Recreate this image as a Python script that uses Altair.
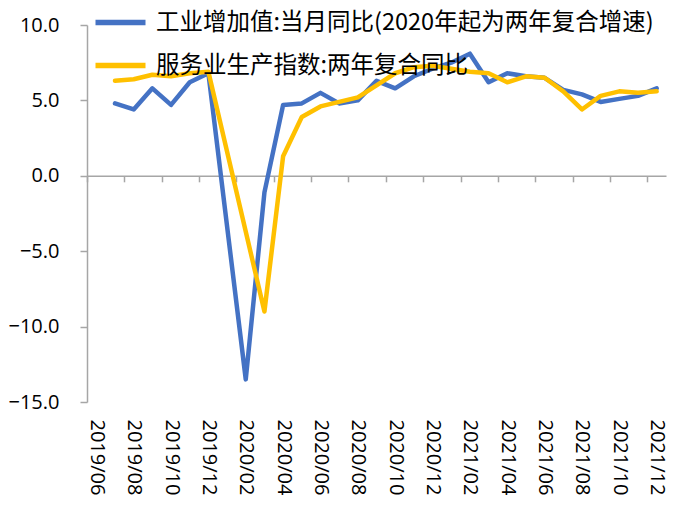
import altair as alt
import pandas as pd

months = [
    "2019/06", "2019/07", "2019/08", "2019/09", "2019/10", "2019/11", "2019/12",
    "2020/01", "2020/02", "2020/03", "2020/04", "2020/05", "2020/06", "2020/07",
    "2020/08", "2020/09", "2020/10", "2020/11", "2020/12", "2021/01", "2021/02",
    "2021/03", "2021/04", "2021/05", "2021/06", "2021/07", "2021/08", "2021/09",
    "2021/10", "2021/11", "2021/12",
]
industry = [
    None, 4.8, 4.4, 5.8, 4.7, 6.2, 6.8,
    None, -13.5, -1.1, 4.7, 4.8, 5.5, 4.8,
    5.0, 6.3, 5.8, 6.6, 7.1, 7.5, 8.1,
    6.2, 6.8, 6.6, 6.5, 5.7, 5.4, 4.9,
    5.1, 5.3, 5.8,
]
services = [
    None, 6.3, 6.4, 6.7, 6.6, 6.8, 6.9,
    None, None, -9.0, 1.3, 3.9, 4.6, 4.9,
    5.2, 6.0, 6.8, 7.2, 7.3, 7.1, 6.9,
    6.8, 6.2, 6.6, 6.5, 5.6, 4.4, 5.3,
    5.6, 5.5, 5.6,
]
s1 = "工业增加值:当月同比(2020年起为两年复合增速)"
s2 = "服务业生产指数:两年复合同比"
y_ticks = [-15, -10, -5, 0, 5, 10]
label_months = months[::2]

rows = []
for m, a, b in zip(months, industry, services):
    if a is not None:
        rows.append({"month": m, "series": s1, "value": a})
    if b is not None:
        rows.append({"month": m, "series": s2, "value": b})
df = pd.DataFrame(rows)

W, H = 579, 377
GRAY = "#a6a6a6"
x_scale = alt.Scale(domain=months, type="point", padding=0.5)
y_scale = alt.Scale(domain=[-15, 10], nice=False, zero=False)

zero_axis = alt.Chart(pd.DataFrame({"month": months})).mark_tick(opacity=0).encode(
    x=alt.X(
        "month:O",
        scale=x_scale,
        axis=alt.Axis(
            title=None, values=label_months, labels=False, orient="bottom",
            domainColor=GRAY, domainWidth=1.5, tickColor=GRAY, tickWidth=1.5,
            tickSize=6, tickOffset=-W / 62, offset=-H * 15 / 25,
        ),
    )
)

lines = alt.Chart(df).mark_line(strokeWidth=4.5, strokeCap="round", strokeJoin="round").encode(
    x=alt.X(
        "month:O",
        scale=x_scale,
        axis=alt.Axis(
            title=None, values=label_months, labelAngle=90, domain=False,
            ticks=False, tickSize=0, labelPadding=17, labelFont="Open Sans",
            labelFontSize=20, labelColor="#000000", orient="bottom",
        ),
    ),
    y=alt.Y(
        "value:Q",
        scale=y_scale,
        axis=alt.Axis(
            title=None, values=y_ticks, format=".1f", grid=False,
            domainColor=GRAY, domainWidth=1.5, tickColor=GRAY, tickWidth=1.5,
            tickSize=7, labelPadding=21, labelFont="Open Sans", labelFontSize=20,
            labelColor="#000000",
        ),
    ),
    color=alt.Color(
        "series:N",
        scale=alt.Scale(domain=[s1, s2], range=["#4472C4", "#FFC000"]),
        legend=alt.Legend(
            title=None, orient="none", legendX=18, legendY=-18, padding=0,
            symbolType="M-2,0H2", symbolSize=625, symbolStrokeWidth=5.5,
            rowPadding=16, labelOffset=20, labelFont="Noto Sans CJK SC",
            labelFontSize=23.5, labelLimit=700, labelColor="#000000",
        ),
    ),
)

chart = alt.layer(zero_axis, lines).resolve_axis(x="independent").properties(
    width=W, height=H,
    autosize=alt.AutoSizeParams(type="none"),
    padding={"left": 79, "top": 17, "right": 7, "bottom": 98},
).configure_view(stroke=None)

chart.save("out.html", embed_options={"renderer": "svg", "actions": False})
